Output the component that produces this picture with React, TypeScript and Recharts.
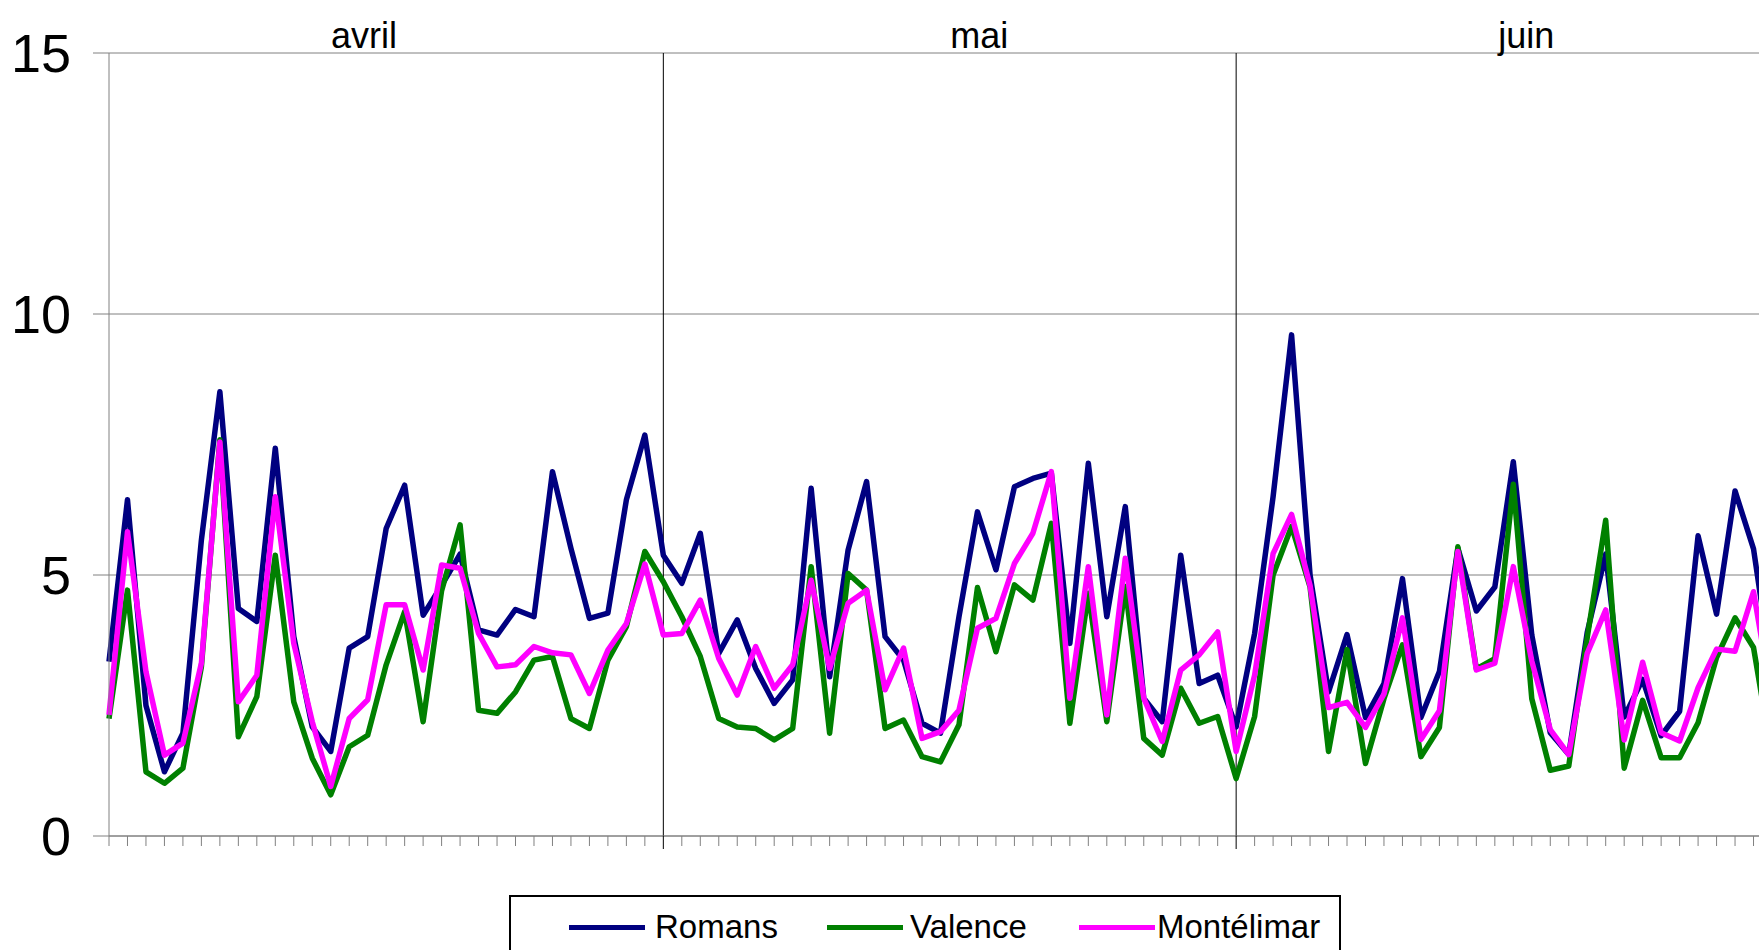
import React from "react";
import { LineChart, Line, XAxis, YAxis, CartesianGrid, ReferenceLine, Legend } from "recharts";

// one value per day, 1 April -> 30 June
const MONTHS = ["avril", "mai", "juin"];
const MONTH_DAYS = [30, 31, 30];
// where Excel put the month captions (in day units)
const MONTH_LABEL_AT = [13.8, 47.1, 76.7];
const Y_TICKS = [0, 5, 10, 15];

const ROMANS = [
  3.34, 6.44, 2.5, 1.23, 1.97, 5.67, 8.51, 4.36, 4.11, 7.43, 3.82, 2.09, 1.62, 3.6, 3.82, 5.89, 6.72, 4.23, 4.8, 5.4,
  3.95, 3.85, 4.34, 4.2, 6.98, 5.51, 4.17, 4.27, 6.44, 7.68,
  5.38, 4.84, 5.8, 3.5, 4.14, 3.21, 2.54, 2.99, 6.66, 3.05, 5.48, 6.79, 3.82, 3.37, 2.16, 1.97, 4.2, 6.21, 5.1, 6.69,
  6.85, 6.95, 3.69, 7.14, 4.2, 6.31, 2.64, 2.19, 5.38, 2.92, 3.08,
  2.09, 3.88, 6.5, 9.6, 5.0, 2.76, 3.86, 2.27, 2.92, 4.93, 2.27, 3.15, 5.51, 4.31, 4.77, 7.17, 3.85, 1.98, 1.56, 3.9,
  5.4, 2.28, 3.0, 1.92, 2.39, 5.75, 4.25, 6.61, 5.5, 3.1,
];

const VALENCE = [
  2.25, 4.71, 1.23, 1.01, 1.3, 3.24, 7.59, 1.9, 2.67, 5.38, 2.57, 1.49, 0.79, 1.71, 1.93, 3.28, 4.3, 2.19, 4.7, 5.96,
  2.41, 2.35, 2.76, 3.37, 3.44, 2.25, 2.06, 3.37, 4.01, 5.45,
  4.87, 4.2, 3.44, 2.25, 2.09, 2.06, 1.84, 2.06, 5.16, 1.97, 5.03, 4.71, 2.06, 2.22, 1.52, 1.42, 2.13, 4.76, 3.53, 4.81,
  4.52, 5.99, 2.16, 4.65, 2.19, 4.78, 1.87, 1.55, 2.83, 2.16, 2.29,
  1.1, 2.29, 5.0, 5.93, 4.77, 1.62, 3.57, 1.39, 2.63, 3.66, 1.52, 2.08, 5.54, 3.2, 3.4, 6.74, 2.63, 1.26, 1.34, 3.8,
  6.05, 1.3, 2.6, 1.5, 1.5, 2.17, 3.42, 4.18, 3.61, 1.5,
];

const MONTELIMAR = [
  2.32, 5.83, 3.15, 1.55, 1.78, 3.31, 7.55, 2.57, 3.08, 6.5, 3.69, 2.19, 0.95, 2.25, 2.61, 4.43, 4.43, 3.18, 5.19, 5.13,
  3.88, 3.24, 3.28, 3.63, 3.51, 3.47, 2.73, 3.56, 4.07, 5.21,
  3.85, 3.88, 4.52, 3.4, 2.7, 3.63, 2.83, 3.28, 4.9, 3.21, 4.46, 4.71, 2.8, 3.6, 1.87, 2.0, 2.41, 3.98, 4.17, 5.22,
  5.8, 6.98, 2.64, 5.16, 2.32, 5.32, 2.64, 1.81, 3.18, 3.47, 3.91,
  1.62, 3.08, 5.41, 6.16, 4.8, 2.46, 2.56, 2.08, 2.72, 4.18, 1.85, 2.4, 5.45, 3.18, 3.31, 5.16, 3.35, 2.04, 1.56, 3.5,
  4.33, 1.84, 3.33, 1.98, 1.82, 2.84, 3.58, 3.54, 4.68, 2.6,
];

const SERIES = [
  { key: "romans", name: "Romans", color: "#000080" },
  { key: "valence", name: "Valence", color: "#008000" },
  { key: "montelimar", name: "Montélimar", color: "#ff00ff" },
];

const data = ROMANS.map((v, i) => ({
  day: i,
  romans: v,
  valence: VALENCE[i],
  montelimar: MONTELIMAR[i],
}));

const LAST_DAY = data.length - 1;
const DAY_TICKS = data.map((d) => d.day);
// first day of May and June
const MONTH_STARTS = MONTH_DAYS.slice(0, -1).map((_, i) =>
  MONTH_DAYS.slice(0, i + 1).reduce((a, b) => a + b, 0)
);

const FONT = "'Liberation Sans', Arial, Helvetica, sans-serif";
const GRID = "#808080";

function DayTick(props: any) {
  const { x, y, payload } = props;
  const isStart = MONTH_STARTS.includes(payload.value);
  return (
    <line
      x1={x}
      x2={x}
      y1={y}
      y2={y + (isStart ? 13 : 10)}
      stroke={isStart ? "#000" : GRID}
      strokeWidth={1}
    />
  );
}

function MonthTick(props: any) {
  const { x, y, payload } = props;
  const name = MONTHS[MONTH_LABEL_AT.indexOf(payload.value)];
  return (
    <text x={x} y={y - 5} textAnchor="middle" fontSize={36} fill="#000" fontFamily={FONT}>
      {name}
    </text>
  );
}

const LEGEND_X = [58, 316, 568];
const LEGEND_GAP = [10, 7, 2];

function LegendBox() {
  return (
    <div
      style={{
        position: "relative",
        width: 832,
        height: 90,
        border: "2px solid #000",
        boxSizing: "border-box",
        background: "#fff",
        fontFamily: FONT,
      }}
    >
      {SERIES.map((s, i) => (
        <div
          key={s.key}
          style={{ position: "absolute", left: LEGEND_X[i], top: 12, display: "flex", alignItems: "center" }}
        >
          <span style={{ display: "inline-block", width: 76, height: 5, background: s.color }} />
          <span style={{ marginLeft: LEGEND_GAP[i], fontSize: 33, lineHeight: "36px", color: "#000" }}>{s.name}</span>
        </div>
      ))}
    </div>
  );
}

export default function App() {
  return (
    <div
      style={{
        position: "fixed",
        left: 0,
        top: 0,
        width: 1759,
        height: 950,
        overflow: "hidden",
        background: "#fff",
        fontFamily: FONT,
      }}
    >
      <LineChart width={1772} height={950} data={data} margin={{ top: 0, right: 0, bottom: 0, left: 0 }}>
        <CartesianGrid vertical={false} stroke={GRID} strokeWidth={1} />
        <XAxis
          dataKey="day"
          type="number"
          domain={[0, LAST_DAY]}
          ticks={DAY_TICKS}
          interval={0}
          height={114}
          axisLine={{ stroke: GRID, strokeWidth: 1 }}
          tickLine={false}
          tickSize={0}
          tickMargin={0}
          tick={<DayTick />}
        />
        <XAxis
          xAxisId="top"
          orientation="top"
          type="number"
          domain={[0, LAST_DAY]}
          allowDataOverflow
          ticks={MONTH_LABEL_AT}
          interval={0}
          height={53}
          axisLine={false}
          tickLine={false}
          tickSize={0}
          tickMargin={0}
          tick={<MonthTick />}
        />
        <YAxis
          type="number"
          domain={[0, 15]}
          ticks={Y_TICKS}
          interval={0}
          width={109}
          axisLine={{ stroke: GRID, strokeWidth: 1 }}
          tickLine={{ stroke: GRID, strokeWidth: 1 }}
          tickSize={16}
          tickMargin={22}
          tick={{ fill: "#000", fontSize: 54, fontFamily: FONT }}
        />
        {MONTH_STARTS.map((d) => (
          <ReferenceLine key={d} x={d} stroke="#000" strokeWidth={1} />
        ))}
        {SERIES.map((s) => (
          <Line
            key={s.key}
            type="linear"
            dataKey={s.key}
            name={s.name}
            stroke={s.color}
            strokeWidth={5.5}
            strokeLinejoin="round"
            dot={false}
            activeDot={false}
            isAnimationActive={false}
          />
        ))}
        <Legend
          verticalAlign="middle"
          align="center"
          content={<LegendBox />}
          wrapperStyle={{ left: 509, top: 895, width: 832 }}
        />
      </LineChart>
    </div>
  );
}
